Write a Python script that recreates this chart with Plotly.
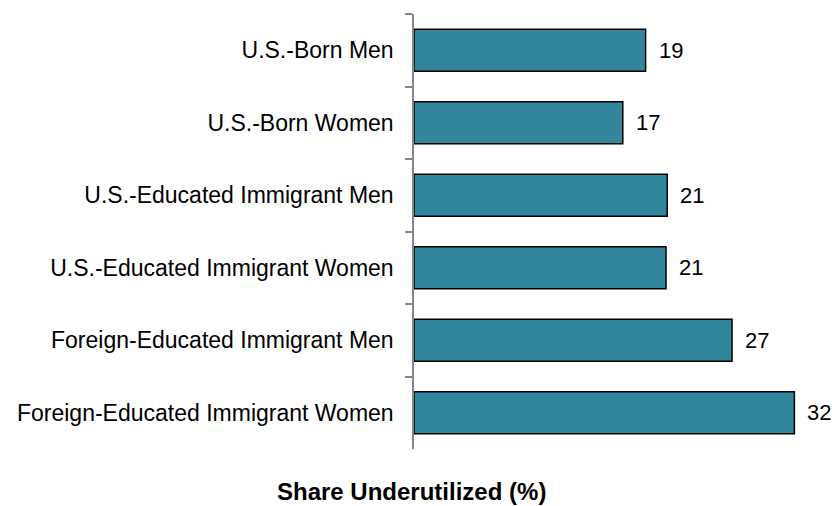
import plotly.graph_objects as go

categories = [
    "U.S.-Born Men",
    "U.S.-Born Women",
    "U.S.-Educated Immigrant Men",
    "U.S.-Educated Immigrant Women",
    "Foreign-Educated Immigrant Men",
    "Foreign-Educated Immigrant Women",
]
values = [19.3, 17.4, 21.1, 21.0, 26.5, 31.7]
value_labels = ["19", "17", "21", "21", "27", "32"]

x_title = "Share Underutilized (%)"

FONT = "Liberation Sans, Arial, sans-serif"

fig = go.Figure()
fig.add_trace(go.Bar(
    x=values,
    y=categories,
    orientation="h",
    marker=dict(color="#31869B", line=dict(color="#000000", width=1.5)),
    hoverinfo="x+y",
))

annotations = []
for c, v, lab in zip(categories, values, value_labels):
    annotations.append(dict(
        x=v, y=c, xref="x", yref="y", text=lab, showarrow=False,
        xanchor="left", yanchor="middle", xshift=11,
        font=dict(family=FONT, size=22, color="#000000"),
    ))
annotations.append(dict(
    x=-0.005, y=-0.097, xref="paper", yref="paper", text="<b>" + x_title + "</b>",
    showarrow=False, xanchor="center", yanchor="middle",
    font=dict(family=FONT, size=24, color="#000000"),
))

fig.update_layout(
    width=836, height=506,
    margin=dict(l=414, r=2, t=14, b=57),
    paper_bgcolor="#FFFFFF", plot_bgcolor="#FFFFFF",
    bargap=0.42,
    showlegend=False,
    font=dict(family=FONT, size=23, color="#000000"),
    xaxis=dict(range=[0, 35], visible=False, fixedrange=True),
    yaxis=dict(
        autorange="reversed",
        showline=True, linecolor="#868686", linewidth=1.5,
        ticks="outside", tickson="boundaries", ticklen=7, tickwidth=1.5, tickcolor="#868686",
        showgrid=False, zeroline=False,
        tickfont=dict(family=FONT, size=23, color="#000000"),
        ticklabelstandoff=14,
    ),
    annotations=annotations,
)

fig.write_html(
    "out.html",
    config={"displayModeBar": False},
    post_script="document.body.style.margin='0';document.body.style.overflow='hidden';",
)
